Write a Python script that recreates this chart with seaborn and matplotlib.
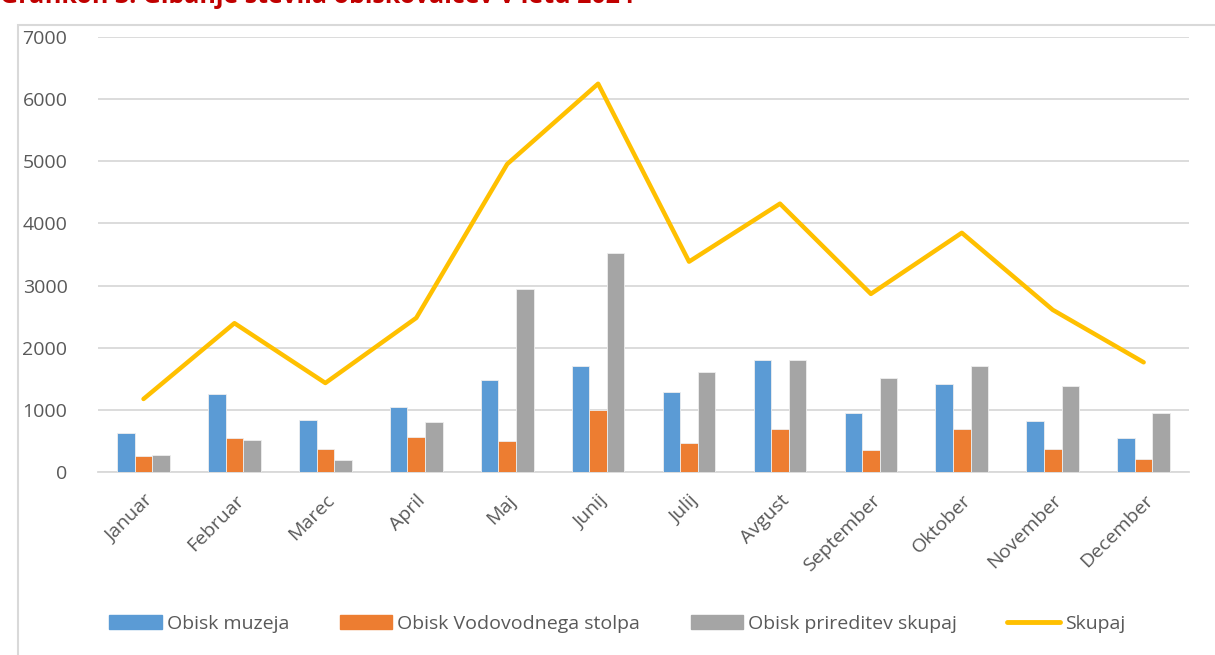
import numpy as np
import pandas as pd
import matplotlib.pyplot as plt
import seaborn as sns
from matplotlib.patches import Rectangle
from matplotlib.lines import Line2D

months = ["Januar", "Februar", "Marec", "April", "Maj", "Junij",
          "Julij", "Avgust", "September", "Oktober", "November", "December"]
muzej = [630, 1262, 837, 1040, 1473, 1700, 1290, 1810, 955, 1413, 825, 550]
stolp = [254, 550, 372, 566, 506, 998, 464, 696, 356, 691, 367, 210]
prireditve = [270, 513, 194, 804, 2947, 3527, 1602, 1796, 1516, 1710, 1387, 950]
skupaj = [1175, 2395, 1432, 2480, 4955, 6248, 3385, 4318, 2866, 3849, 2609, 1765]

series_names = ["Obisk muzeja", "Obisk Vodovodnega stolpa", "Obisk prireditev skupaj"]
colors = ["#5B9BD5", "#ED7D31", "#A5A5A5"]
line_color = "#FFC000"
text_color = "#595959"

df = pd.DataFrame({
    "mesec": months * 3,
    "vrsta": [series_names[0]] * 12 + [series_names[1]] * 12 + [series_names[2]] * 12,
    "obisk": muzej + stolp + prireditve,
})

sns.set_style("white")
plt.rcParams["font.family"] = ["Open Sans", "DejaVu Sans"]

fig = plt.figure(figsize=(12.15, 6.55), dpi=100)
ax = fig.add_axes([0.0807, 0.2794, 0.898, 0.6641])

# chart border
fig.patches.append(Rectangle((18 / 1215, -0.01), 1.2, 1 - 25 / 655 + 0.01,
                             transform=fig.transFigure, fill=False,
                             edgecolor="#D9D9D9", linewidth=1.5, zorder=0))

sns.barplot(data=df, x="mesec", y="obisk", hue="vrsta", palette=colors,
            saturation=1, width=0.58, gap=0, ax=ax, legend=False,
            edgecolor="#EEEEEE", linewidth=0.6, zorder=3)
sns.lineplot(x=np.arange(len(months)), y=skupaj, color=line_color,
             linewidth=3.2, ax=ax, zorder=4, sort=False)

ax.set_ylim(0, 7000)
ax.set_xlim(-0.5, len(months) - 0.5)
ax.set_yticks(range(0, 7001, 1000))
ax.yaxis.grid(True, color="#D9D9D9", linewidth=1.3, zorder=0)
ax.set_axisbelow(True)
for s in ["top", "right", "left"]:
    ax.spines[s].set_visible(False)
ax.spines["bottom"].set_color("#D9D9D9")
ax.spines["bottom"].set_linewidth(1.3)
ax.set_xlabel("")
ax.set_ylabel("")
ax.tick_params(axis="both", length=0, colors=text_color, labelsize=14)
ax.tick_params(axis="y", pad=22)
ax.tick_params(axis="x", pad=14)
ax.set_xticks(np.arange(len(months)))
ax.set_xticklabels(months, rotation=45, ha="right", rotation_mode="anchor")

handles = [Rectangle((0, 0), 1, 1, color=c) for c in colors]
handles.append(Line2D([0], [0], color=line_color, linewidth=3.5))
leg = fig.legend(handles, series_names + ["Skupaj"], loc="center",
                 bbox_to_anchor=(0.508, 1 - 624 / 655), ncol=4, frameon=False,
                 fontsize=14, handlelength=2.7, handleheight=0.7,
                 handletextpad=0.25, columnspacing=2.6)
for t in leg.get_texts():
    t.set_color(text_color)

fig.text(0.0, 1 - 3 / 655, "Grafikon 3: Gibanje števila obiskovalcev v letu 2024",
         color="#C00000", fontsize=18, fontweight="bold", va="baseline", ha="left")

fig.savefig("out.png", dpi=100)
